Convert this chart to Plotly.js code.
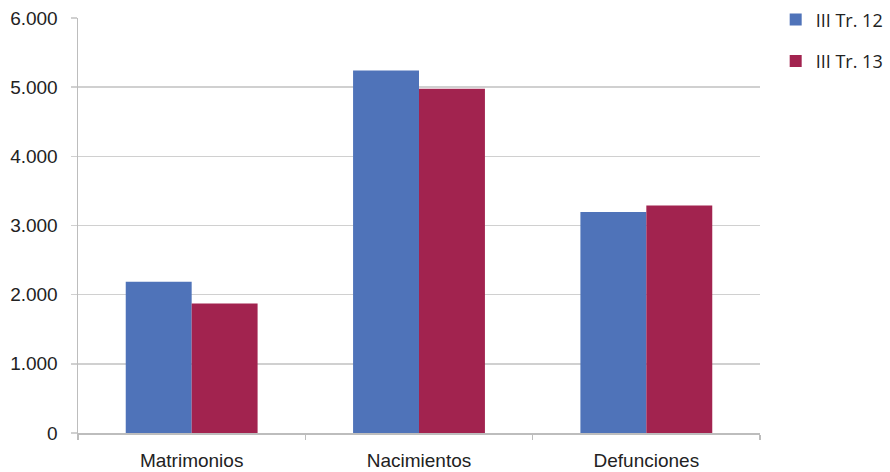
<!DOCTYPE html>
<html>
<head>
<meta charset="utf-8">
<script src="https://cdn.plot.ly/plotly-3.0.1.min.js"></script>
<style>html,body{margin:0;padding:0;background:#fff;}#chart{width:890px;height:472px;}</style>
</head>
<body>
<div id="chart"></div>
<script>
const categories = ["Matrimonios", "Nacimientos", "Defunciones"];
const seriesNames = ["III Tr. 12", "III Tr. 13"];
const tr12 = [2185, 5242, 3196];
const tr13 = [1873, 4978, 3288];
const yTicks = [0, 1000, 2000, 3000, 4000, 5000, 6000];

const traces = [
  {type: "bar", x: categories, y: tr12, name: seriesNames[0], legendgroup: "a",
   marker: {color: "#4F73B9"}},
  {type: "bar", x: categories, y: tr13, name: seriesNames[1], legendgroup: "b",
   marker: {color: "#A2234F"}}
];

const layout = {
  width: 890, height: 472,
  margin: {l: 78, r: 130, t: 18, b: 39, autoexpand: false},
  paper_bgcolor: "#fff", plot_bgcolor: "#fff",
  separators: ",.",
  barmode: "group",
  bargap: 0.42, bargroupgap: 0,
  font: {family: "Liberation Sans, Arial, sans-serif", color: "#222"},
  xaxis: {
    tickson: "boundaries", ticks: "outside", ticklen: 5, tickcolor: "#bdbdbd", tickwidth: 1.5,
    showline: true, linecolor: "#bdbdbd", linewidth: 1.5,
    tickfont: {size: 19, color: "#222"},
    ticklabelstandoff: 10,
    showgrid: false
  },
  yaxis: {
    range: [0, 6000], tickvals: yTicks, tickformat: ",d",
    ticks: "outside", ticklen: 6, tickcolor: "#d0d0d0", tickwidth: 1.5,
    showline: true, linecolor: "#bdbdbd", linewidth: 1.5,
    gridcolor: "#d0d0d0", gridwidth: 1.5,
    tickfont: {size: 19, color: "#222"},
    ticklabelstandoff: 9,
    zeroline: false
  },
  legend: {
    x: 1.023, xanchor: "left", y: 1.04, yanchor: "top",
    traceorder: "grouped", tracegroupgap: 15,
    font: {size: 18, family: "Open Sans, Liberation Sans, sans-serif", color: "#222"},
    itemwidth: 30
  },
  showlegend: true
};

Plotly.newPlot("chart", traces, layout, {displayModeBar: false, staticPlot: true});
</script>
</body>
</html>
